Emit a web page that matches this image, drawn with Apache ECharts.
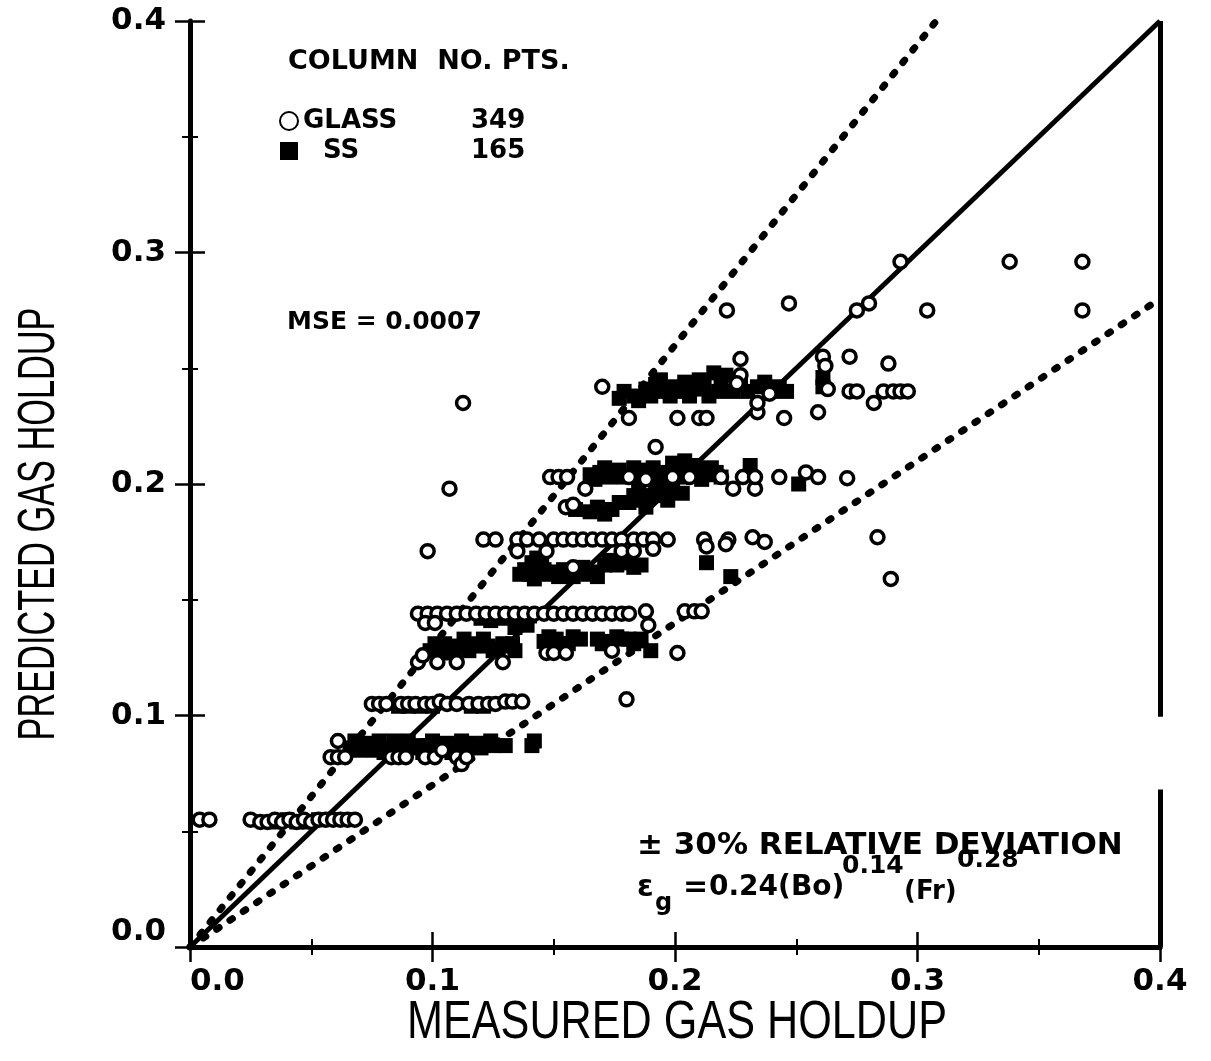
<!DOCTYPE html>
<html>
<head>
<meta charset="utf-8">
<script src="https://cdn.jsdelivr.net/npm/echarts@6/dist/echarts.min.js"></script>
<style>
  html, body { margin: 0; padding: 0; background: #fff; }
  #chart { width: 1211px; height: 1061px; }
</style>
</head>
<body>
<div id="chart"></div>
<script>
// Axis ticks
const tickValues = [0, 0.1, 0.2, 0.3, 0.4];
const tickLabels = ['0.0', '0.1', '0.2', '0.3', '0.4'];

// Axis titles
const xTitle = 'MEASURED GAS HOLDUP';
const yTitle = 'PREDICTED GAS HOLDUP';

// Legend rows: column material and number of points
const columnNames = ['GLASS', 'SS'];
const columnCounts = [349, 165];

// Parity lines: perfect agreement and the ±30% band
const parityLine = [[0, 0], [0.4, 0.4]];
const upperBand = [[0, 0], [0.4 / 1.3, 0.4]];
const lowerBand = [[0, 0], [0.4, 0.28]];

// Glass column points [measured, predicted], grouped by predicted level
const glass055 = [[0.004,0.055],[0.008,0.055],[0.025,0.055],[0.029,0.054],[0.032,0.054],[0.035,0.055],[0.038,0.054],[0.041,0.055],[0.044,0.054],[0.047,0.055],[0.050,0.054],[0.053,0.055],[0.056,0.055],[0.059,0.055],[0.062,0.055],[0.065,0.055],[0.068,0.055]];
const glass082 = [[0.058,0.082],[0.061,0.082],[0.064,0.082],[0.061,0.089],[0.083,0.082],[0.086,0.082],[0.089,0.082],[0.097,0.082],[0.101,0.082],[0.104,0.085],[0.110,0.082],[0.112,0.079],[0.114,0.082]];
const glass105 = [[0.075,0.105],[0.078,0.105],[0.081,0.105],[0.087,0.105],[0.090,0.105],[0.093,0.105],[0.097,0.105],[0.100,0.105],[0.103,0.106],[0.106,0.105],[0.110,0.105],[0.115,0.105],[0.119,0.105],[0.123,0.105],[0.126,0.105],[0.130,0.106],[0.133,0.106],[0.137,0.106],[0.180,0.107]];
const glass125 = [[0.094,0.123],[0.102,0.123],[0.110,0.123],[0.129,0.123],[0.147,0.127],[0.150,0.127],[0.155,0.127],[0.174,0.128],[0.201,0.127],[0.096,0.126]];
const glass144 = [[0.094,0.144],[0.098,0.144],[0.102,0.144],[0.106,0.144],[0.110,0.144],[0.114,0.144],[0.118,0.144],[0.122,0.144],[0.126,0.144],[0.130,0.144],[0.134,0.144],[0.138,0.144],[0.142,0.144],[0.146,0.144],[0.150,0.144],[0.154,0.144],[0.158,0.144],[0.162,0.144],[0.166,0.144],[0.170,0.144],[0.174,0.144],[0.178,0.144],[0.181,0.144],[0.097,0.140],[0.101,0.140],[0.188,0.145],[0.189,0.139],[0.204,0.145],[0.208,0.145],[0.211,0.145]];
const glass176 = [[0.098,0.171],[0.121,0.176],[0.126,0.176],[0.135,0.176],[0.139,0.176],[0.144,0.176],[0.150,0.176],[0.154,0.176],[0.158,0.176],[0.162,0.176],[0.166,0.176],[0.170,0.176],[0.174,0.176],[0.178,0.176],[0.183,0.176],[0.187,0.176],[0.191,0.176],[0.197,0.176],[0.135,0.171],[0.147,0.171],[0.178,0.171],[0.183,0.171],[0.191,0.172],[0.212,0.176],[0.213,0.173],[0.222,0.176],[0.221,0.174],[0.232,0.177],[0.237,0.175],[0.2835,0.177],[0.289,0.159],[0.158,0.164]];
const glass200 = [[0.155,0.190],[0.158,0.191],[0.1485,0.203],[0.152,0.203],[0.1555,0.203],[0.163,0.198],[0.181,0.203],[0.188,0.202],[0.199,0.203],[0.206,0.203],[0.219,0.203],[0.224,0.198],[0.228,0.203],[0.233,0.198],[0.233,0.203],[0.243,0.203],[0.254,0.205],[0.259,0.203],[0.271,0.2025],[0.192,0.216],[0.107,0.198]];
const glass240 = [[0.170,0.242],[0.181,0.2285],[0.201,0.2285],[0.210,0.2285],[0.213,0.2285],[0.227,0.254],[0.227,0.247],[0.2255,0.2435],[0.234,0.231],[0.234,0.235],[0.239,0.239],[0.245,0.2285],[0.259,0.231],[0.261,0.255],[0.262,0.251],[0.263,0.241],[0.272,0.255],[0.272,0.240],[0.275,0.240],[0.282,0.235],[0.286,0.240],[0.290,0.240],[0.293,0.240],[0.296,0.240],[0.288,0.252],[0.1126,0.235]];
const glass280 = [[0.2214,0.275],[0.247,0.278],[0.275,0.275],[0.280,0.278],[0.293,0.296],[0.304,0.275],[0.338,0.296],[0.368,0.296],[0.368,0.275]];

// Stainless steel column points [measured, predicted]
const ss055 = [[0.036,0.054],[0.040,0.055],[0.044,0.054],[0.049,0.054],[0.053,0.055]];
const ss086 = [[0.066,0.086],[0.068,0.089],[0.070,0.085],[0.072,0.088],[0.074,0.087],[0.076,0.085],[0.078,0.089],[0.080,0.084],[0.082,0.086],[0.084,0.089],[0.086,0.087],[0.088,0.085],[0.090,0.089],[0.092,0.086],[0.094,0.087],[0.096,0.084],[0.098,0.087],[0.100,0.089],[0.102,0.086],[0.104,0.086],[0.106,0.088],[0.108,0.084],[0.110,0.087],[0.112,0.089],[0.114,0.086],[0.116,0.088],[0.118,0.087],[0.120,0.086],[0.122,0.088],[0.124,0.089],[0.125,0.087],[0.130,0.087],[0.141,0.087],[0.142,0.089]];
const ss104 = [[0.086,0.104],[0.090,0.104],[0.095,0.104],[0.100,0.104],[0.116,0.104],[0.121,0.104]];
const ss130 = [[0.099,0.128],[0.101,0.131],[0.103,0.129],[0.105,0.131],[0.107,0.127],[0.109,0.128],[0.111,0.130],[0.113,0.133],[0.115,0.128],[0.117,0.130],[0.119,0.131],[0.121,0.133],[0.123,0.130],[0.125,0.128],[0.127,0.129],[0.129,0.131],[0.131,0.130],[0.133,0.131],[0.134,0.128],[0.146,0.132],[0.148,0.134],[0.151,0.133],[0.153,0.131],[0.156,0.131],[0.158,0.134],[0.161,0.133],[0.168,0.133],[0.170,0.131],[0.173,0.132],[0.176,0.134],[0.178,0.133],[0.181,0.133],[0.183,0.131],[0.186,0.133],[0.190,0.128]];
const ss142 = [[0.120,0.142],[0.124,0.141],[0.128,0.142],[0.132,0.143],[0.136,0.142],[0.140,0.143],[0.134,0.138],[0.139,0.139]];
const ss162 = [[0.136,0.161],[0.138,0.163],[0.140,0.161],[0.142,0.159],[0.143,0.168],[0.144,0.162],[0.146,0.163],[0.148,0.161],[0.150,0.162],[0.152,0.160],[0.154,0.163],[0.156,0.161],[0.158,0.160],[0.160,0.162],[0.162,0.164],[0.164,0.161],[0.166,0.162],[0.168,0.160],[0.141,0.166],[0.145,0.166],[0.171,0.165],[0.173,0.167],[0.176,0.165],[0.178,0.166],[0.181,0.166],[0.183,0.164],[0.186,0.165],[0.213,0.166],[0.223,0.160]];
const ss192 = [[0.159,0.189],[0.165,0.188],[0.168,0.190],[0.171,0.187],[0.174,0.189],[0.177,0.192],[0.181,0.192],[0.183,0.195],[0.186,0.193],[0.188,0.190],[0.190,0.195],[0.192,0.198],[0.194,0.195],[0.197,0.193],[0.199,0.197],[0.203,0.196]];
const ss204 = [[0.165,0.204],[0.167,0.202],[0.169,0.205],[0.171,0.207],[0.173,0.203],[0.175,0.204],[0.177,0.206],[0.179,0.203],[0.181,0.204],[0.183,0.207],[0.185,0.206],[0.187,0.203],[0.189,0.205],[0.191,0.207],[0.193,0.204],[0.195,0.202],[0.197,0.205],[0.201,0.206],[0.203,0.203],[0.205,0.204],[0.207,0.208],[0.209,0.205],[0.211,0.202],[0.213,0.204],[0.215,0.207],[0.217,0.205],[0.219,0.203],[0.199,0.209],[0.204,0.210],[0.209,0.207],[0.231,0.208],[0.251,0.200],[0.185,0.199],[0.193,0.198]];
const ss240 = [[0.177,0.237],[0.179,0.240],[0.183,0.238],[0.185,0.236],[0.188,0.241],[0.190,0.238],[0.192,0.243],[0.194,0.245],[0.196,0.240],[0.198,0.238],[0.200,0.242],[0.202,0.240],[0.204,0.244],[0.206,0.238],[0.208,0.241],[0.210,0.245],[0.212,0.243],[0.214,0.238],[0.216,0.248],[0.218,0.240],[0.219,0.243],[0.221,0.247],[0.224,0.240],[0.227,0.243],[0.230,0.240],[0.234,0.242],[0.237,0.244],[0.240,0.240],[0.243,0.242],[0.246,0.240],[0.261,0.246],[0.261,0.242]];

const glassPoints = [].concat(glass055, glass082, glass105, glass125, glass144, glass176, glass200, glass240, glass280);
const ssPoints = [].concat(ss055, ss086, ss104, ss130, ss142, ss162, ss192, ss204, ss240);

const BOLD = 'DejaVu Sans';
const chart = echarts.init(document.getElementById('chart'), null, { renderer: 'canvas' });

const frame = { show: true, lineStyle: { color: '#000', width: 5 } };
const inTicks = { show: true, inside: true, length: 15, lineStyle: { color: '#000', width: 2.5 } };
const inMinor = { show: true, splitNumber: 2, length: 8, lineStyle: { color: '#000', width: 2 } };
const fmt = v => {
  const i = tickValues.findIndex(t => Math.abs(t - v) < 1e-9);
  return i >= 0 ? tickLabels[i] : '';
};
const dotted = { color: '#000', width: 7, type: [3, 13], cap: 'round' };
const txt = (x, y, text, size, extra) => Object.assign({
  type: 'text', x: x, y: y,
  style: { text: text, font: 'bold ' + size + 'px DejaVu Sans', fill: '#000', verticalAlign: 'middle' }
}, extra || {});

chart.setOption({
  animation: false,
  backgroundColor: '#fff',
  grid: { left: 190, right: 51, top: 21, bottom: 114, containLabel: false },
  xAxis: [{
    type: 'value', min: 0, max: 0.4, interval: 0.1,
    axisLine: frame, axisTick: inTicks, minorTick: inMinor, splitLine: { show: false },
    axisLabel: { formatter: fmt, margin: 19, color: '#000', fontFamily: BOLD, fontWeight: 'bold', fontSize: 31, alignMinLabel: 'left' }
  }, {
    type: 'value', position: 'top', min: 0, max: 0.4, interval: 0.1,
    axisLine: frame, axisTick: inTicks, minorTick: inMinor, axisLabel: { show: false }, splitLine: { show: false }
  }],
  yAxis: [{
    type: 'value', min: 0, max: 0.4, interval: 0.1,
    axisLine: frame, axisTick: inTicks, minorTick: inMinor, splitLine: { show: false },
    axisLabel: { formatter: fmt, margin: 24, color: '#000', fontFamily: BOLD, fontWeight: 'bold', fontSize: 31, verticalAlignMinLabel: 'bottom' }
  }, {
    type: 'value', position: 'right', min: 0, max: 0.4, interval: 0.1,
    axisLine: { show: false }, axisTick: inTicks, minorTick: inMinor, axisLabel: { show: false }, splitLine: { show: false }
  }],
  legend: {
    orient: 'vertical', left: 274, top: 103, itemWidth: 18, itemHeight: 18, itemGap: 4,
    data: columnNames, selectedMode: false,
    formatter: name => {
      const i = columnNames.indexOf(name);
      return i === 0 ? '{g|' + name + '}{n|' + columnCounts[i] + '}' : '{s|' + name + '}{n|' + columnCounts[i] + '}';
    },
    textStyle: {
      color: '#000', fontFamily: BOLD, fontWeight: 'bold', fontSize: 26,
      rich: {
        g: { fontFamily: BOLD, fontWeight: 'bold', fontSize: 26, width: 168 },
        s: { fontFamily: BOLD, fontWeight: 'bold', fontSize: 26, width: 148, padding: [0, 0, 0, 20] },
        n: { fontFamily: BOLD, fontWeight: 'bold', fontSize: 26 }
      }
    }
  },
  graphic: [
    // axis titles, set in a condensed sans
    { type: 'text', x: 677, y: 1023, scaleX: 0.8,
      style: { text: xTitle, font: '54px Liberation Sans', fill: '#000', align: 'center', verticalAlign: 'middle' } },
    { type: 'text', x: 40, y: 524, rotation: Math.PI / 2, scaleX: 0.66,
      style: { text: yTitle, font: '52px Liberation Sans', fill: '#000', align: 'center', verticalAlign: 'middle' } },
    txt(288, 62, 'COLUMN  NO. PTS.', 27),
    txt(287, 322, 'MSE = 0.0007', 25),
    txt(637, 846, '± 30% RELATIVE DEVIATION', 31),
    txt(637, 888, 'ε', 30),
    txt(655, 904, 'g', 24),
    txt(683, 888, '=', 30),
    txt(709, 888, '0.24(Bo)', 28),
    txt(842, 866, '0.14', 25),
    txt(904, 892, '(Fr)', 26),
    txt(957, 860, '0.28', 25)
  ],
  series: [
    {
      name: 'parity', type: 'line', data: parityLine, symbol: 'none', silent: true,
      lineStyle: { color: '#000', width: 5 }, z: 1,
      // right-hand frame, broken where the axis line was interrupted
      markLine: {
        symbol: 'none', silent: true, label: { show: false },
        lineStyle: { color: '#000', width: 5, type: 'solid' },
        data: [
          [{ coord: [0.4, 0] }, { coord: [0.4, 0.068] }],
          [{ coord: [0.4, 0.0995] }, { coord: [0.4, 0.4] }]
        ]
      }
    },
    { name: 'upper', type: 'line', data: upperBand, symbol: 'none', silent: true, lineStyle: dotted, z: 1 },
    { name: 'lower', type: 'line', data: lowerBand, symbol: 'none', silent: true, lineStyle: dotted, z: 1 },
    {
      name: 'SS', type: 'scatter', data: ssPoints, symbol: 'rect', symbolSize: 15,
      itemStyle: { color: '#000', borderWidth: 0, opacity: 1 }, z: 3
    },
    {
      name: 'GLASS', type: 'scatter', data: glassPoints, symbol: 'circle', symbolSize: 13,
      itemStyle: { color: '#fff', borderColor: '#000', borderWidth: 3.5, opacity: 1 }, z: 4
    }
  ]
});
</script>
</body>
</html>
